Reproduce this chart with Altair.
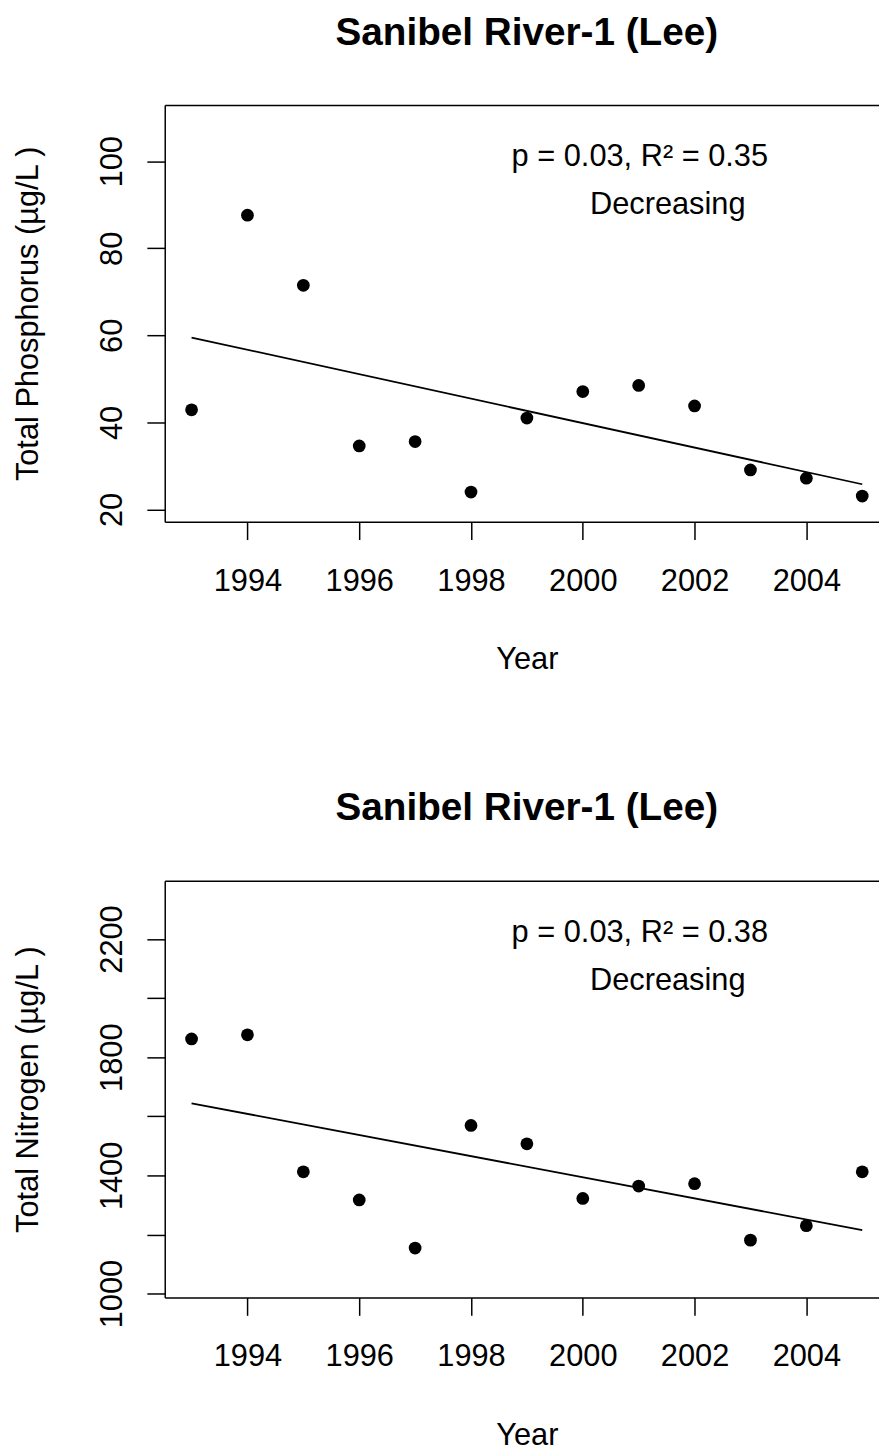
import altair as alt
import pandas as pd

# ---- data ----
years = [1993, 1994, 1995, 1996, 1997, 1998, 1999, 2000, 2001, 2002, 2003, 2004, 2005]
tp_values = [42.9, 87.6, 71.5, 34.6, 35.6, 24.0, 41.0, 47.1, 48.5, 43.8, 29.1, 27.2, 23.1]
tn_values = [1862, 1876, 1412, 1317, 1154, 1569, 1507, 1322, 1364, 1372, 1181, 1230, 1412]

trend_years = [1993, 2005]
tp_trend = [59.5, 25.8]
tn_trend = [1644, 1215]

x_ticks = [1994, 1996, 1998, 2000, 2002, 2004]
tp_ticks = [20, 40, 60, 80, 100]
tn_ticks = [1000, 1200, 1400, 1600, 1800, 2000, 2200]

ann_labels = ["p = 0.03, R\u00b2 = 0.35", "Decreasing"]
ann2_labels = ["p = 0.03, R\u00b2 = 0.38", "Decreasing"]
ann_x = [2001.02, 2001.52]
tp_ann_y = [98.86, 87.85]
tn_ann_y = [2188.6, 2026.4]

title_text = "Sanibel River-1 (Lee)"
FONT = "Liberation Sans"
X_DOMAIN = [1992.52, 2005.30]


def panel(values, trend, ann_text, ann_y, y_domain, y_ticks, y_title, label_expr=None):
    df = pd.DataFrame({"Year": years, "Value": values})
    tdf = pd.DataFrame({"Year": trend_years, "Value": trend})
    adf = pd.DataFrame({"Year": ann_x, "Value": ann_y, "label": ann_text})

    xscale = alt.Scale(domain=X_DOMAIN, nice=False, zero=False)
    yscale = alt.Scale(domain=y_domain, nice=False, zero=False)

    x_axis = alt.Axis(
        values=x_ticks, format="d", grid=False,
        tickSize=18, tickWidth=1.5, tickColor="black",
        domainColor="black", domainWidth=1.5,
        labelFont=FONT, labelFontSize=31, labelColor="black",
        labelPadding=51, labelBaseline="alphabetic", labelAlign="center",
        labelFlush=False, labelOverlap=False,
        title="Year", titleFont=FONT, titleFontSize=31, titleFontWeight="normal",
        titleColor="black", titleX=365, titleY=148,
        titleAlign="center", titleBaseline="alphabetic",
    )
    y_kwargs = dict(
        values=y_ticks, format="d", grid=False,
        tickSize=18, tickWidth=1.5, tickColor="black",
        domainColor="black", domainWidth=1.5,
        labelFont=FONT, labelFontSize=31, labelColor="black",
        labelAngle=270, labelAlign="center", labelBaseline="alphabetic",
        labelPadding=26, labelFlush=False, labelOverlap=False,
        title=y_title, titleFont=FONT, titleFontSize=31, titleFontWeight="normal",
        titleColor="black", titleAngle=270, titleX=-128, titleY=210,
        titleAlign="center", titleBaseline="alphabetic",
    )
    if label_expr:
        y_kwargs["labelExpr"] = label_expr

    top_axis = alt.Axis(
        orient="top", labels=False, ticks=False, grid=False,
        domain=True, domainColor="black", domainWidth=1.5, title=None,
        minExtent=0, maxExtent=0,
    )

    points = alt.Chart(df).mark_circle(size=165, color="black", opacity=1).encode(
        x=alt.X("Year:Q", scale=xscale, axis=x_axis),
        y=alt.Y("Value:Q", scale=yscale, axis=alt.Axis(**y_kwargs)),
    )
    line = alt.Chart(tdf).mark_line(color="black", strokeWidth=1.8).encode(
        x=alt.X("Year:Q", scale=xscale, axis=top_axis),
        y=alt.Y("Value:Q", scale=yscale, axis=alt.Axis(**y_kwargs)),
    )
    text = alt.Chart(adf).mark_text(
        font=FONT, fontSize=31, align="center", baseline="alphabetic", color="black"
    ).encode(
        x=alt.X("Year:Q", scale=xscale, axis=None),
        y=alt.Y("Value:Q", scale=yscale, axis=alt.Axis(**y_kwargs)),
        text="label:N",
    )
    return alt.layer(points, line, text).resolve_axis(x="independent").properties(
        width=720, height=420,
        title=alt.TitleParams(
            text=title_text, font=FONT, fontSize=39, fontWeight="bold", color="black",
            anchor="middle", dx=5, offset=22, baseline="alphabetic",
        ),
    )


p1 = panel(tp_values, tp_trend, ann_labels, tp_ann_y, [17.2, 112.9], tp_ticks,
           "Total Phosphorus (\u00b5g/L )")
p2 = panel(tn_values, tn_trend, ann2_labels, tn_ann_y, [987, 2397], tn_ticks,
           "Total Nitrogen (\u00b5g/L )", "datum.value % 400 == 200 ? datum.label : ''")

chart = alt.vconcat(p1, p2, spacing=116).properties(
    background="white",
    padding={"left": 5, "top": 0, "right": 0, "bottom": 0},
).configure_view(stroke=None)

chart.save("out.html", embed_options={"renderer": "svg", "actions": False})
